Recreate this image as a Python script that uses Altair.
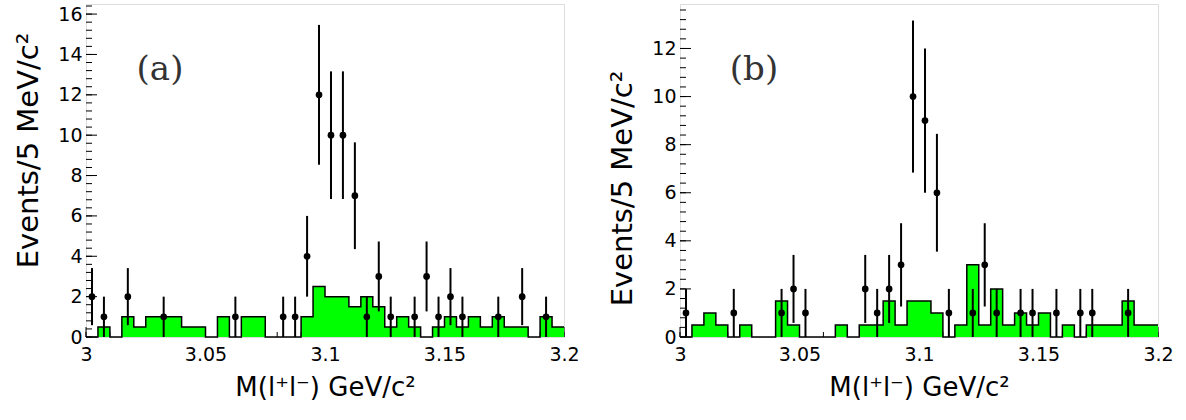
import altair as alt
import numpy as np
import pandas as pd

# ---------------- data ----------------
X_MIN, X_MAX, BIN = 3.0, 3.2, 0.005

# background (green) histogram contents, 40 bins of 5 MeV from 3.0 to 3.2 GeV
green_a = [0, 0.5, 0, 1, 0.5, 1, 1, 1, 0.5, 0.5,
           0, 1, 0, 1, 1, 0, 0, 0, 1, 2.5,
           2, 2, 1.5, 2, 1.5, 0.5, 1, 0.5, 0, 0.5,
           1, 0.5, 1, 0.5, 1, 0.5, 0.5, 0, 1, 0.5]
green_b = [0, 0.5, 1, 0.5, 0, 0.5, 0, 0, 1.5, 0.5,
           0, 0, 0, 0.5, 0, 0.5, 0.5, 1.5, 0.5, 1.5,
           1.5, 1, 0, 0.5, 3, 0.5, 2, 0.5, 1, 0.5,
           1, 0, 0.5, 0, 0.5, 0.5, 0.5, 1.5, 0.5, 0.5]

# data points (bin centres, GeV) and counts
mass_a = [3.0025, 3.0075, 3.0175, 3.0325, 3.0625, 3.0825, 3.0875, 3.0925,
          3.0975, 3.1025, 3.1075, 3.1125, 3.1175, 3.1225, 3.1275, 3.1375,
          3.1425, 3.1475, 3.1525, 3.1575, 3.1725, 3.1825, 3.1925]
counts_a = [2, 1, 2, 1, 1, 1, 1, 4, 12, 10, 10, 7, 1, 3, 1, 1, 3, 1, 2, 1, 1, 2, 1]

mass_b = [3.0025, 3.0225, 3.0425, 3.0475, 3.0525, 3.0775, 3.0825, 3.0875,
          3.0925, 3.0975, 3.1025, 3.1075, 3.1125, 3.1225, 3.1275, 3.1325,
          3.1425, 3.1475, 3.1575, 3.1675, 3.1725, 3.1875]
counts_b = [1, 1, 1, 2, 1, 2, 1, 2, 3, 10, 9, 6, 1, 1, 3, 1, 1, 1, 1, 1, 1, 1]

x_major = [3.0, 3.05, 3.1, 3.15, 3.2]
x_minor = [round(3.0 + 0.01 * i, 2) for i in range(21)]
y_major_a = [0, 2, 4, 6, 8, 10, 12, 14, 16]
y_major_b = [0, 2, 4, 6, 8, 10, 12]
ymax_a, ymax_b = 16.5, 13.85

X_TITLE = "M(l⁺l⁻) GeV/c²"
Y_TITLE = "Events/5 MeV/c²"
FONT = "DejaVu Sans"

W, H = 478, 333


def panel(green, mass, counts, ymax, y_major, tag, title_y):
    edges = [X_MIN + BIN * i for i in range(len(green) + 1)]
    hist = pd.DataFrame({"m": edges, "n": green + [green[-1]]})
    pts = pd.DataFrame({"m": mass, "n": counts})
    err = np.sqrt(pts["n"])
    pts["lo"] = pts["n"] - err
    pts["hi"] = pts["n"] + err

    y_minor = [round(v, 2) for v in np.arange(0, ymax, 0.4)]

    xs = alt.Scale(domain=[X_MIN, X_MAX], nice=False, zero=False)
    ys = alt.Scale(domain=[0, ymax], nice=False, zero=True)

    xax = alt.Axis(values=x_major, format="~g", title=X_TITLE,
                   labelFontSize=19, labelFont=FONT, labelPadding=8,
                   labelFlush=False, labelOverlap=False,
                   titleFont=FONT, titleFontSize=26, titleFontWeight="normal",
                   titleY=58, titleBaseline="alphabetic",
                   ticks=False, domain=False, grid=False,
                   labelColor="black", titleColor="black")
    yax = alt.Axis(values=y_major, title=Y_TITLE,
                   labelFontSize=19, labelFont=FONT, labelPadding=4,
                   labelFlush=False, labelOverlap=False,
                   titleFont=FONT, titleFontSize=29, titleFontWeight="normal",
                   titleX=-58, titleY=title_y, titleAlign="center",
                   titleBaseline="middle", titleAngle=270,
                   ticks=False, domain=False, grid=False,
                   labelColor="black", titleColor="black")

    X = lambda f: alt.X(f, type="quantitative", scale=xs, axis=xax)
    Y = lambda f: alt.Y(f, type="quantitative", scale=ys, axis=yax)

    xt_major = alt.Chart(pd.DataFrame({"m": x_major})).mark_rule(
        color="black", strokeWidth=1).encode(x=X("m"), y=alt.value(H), y2=alt.value(H - 10))
    xt_minor = alt.Chart(pd.DataFrame({"m": x_minor})).mark_rule(
        color="black", strokeWidth=1).encode(x=X("m"), y=alt.value(H), y2=alt.value(H - 5))

    area = alt.Chart(hist).mark_area(interpolate="step-after", color="#00ff00",
                                     opacity=1).encode(x=X("m"), y=Y("n"))
    outline = alt.Chart(hist).mark_line(interpolate="step-after", color="black",
                                        strokeWidth=1.5).encode(x=X("m"), y=Y("n"))

    yt_major = alt.Chart(pd.DataFrame({"v": y_major})).mark_rule(
        color="black", strokeWidth=1).encode(y=Y("v"), x=alt.value(0), x2=alt.value(11))
    yt_minor = alt.Chart(pd.DataFrame({"v": y_minor})).mark_rule(
        color="black", strokeWidth=1).encode(y=Y("v"), x=alt.value(0), x2=alt.value(6))

    bars = alt.Chart(pts).mark_rule(color="black", strokeWidth=2).encode(
        x=X("m"), y=Y("lo"), y2="hi")
    dots = alt.Chart(pts).mark_circle(color="black", size=45, opacity=1).encode(
        x=X("m"), y=Y("n"))

    label = alt.Chart(pd.DataFrame({"t": [tag]})).mark_text(
        font="DejaVu Serif", fontSize=34, color="#333", baseline="middle",
        align="center").encode(text="t:N", x=alt.value(74), y=alt.value(66))

    return alt.layer(xt_minor, xt_major, area, outline, yt_minor, yt_major,
                     bars, dots, label).properties(width=W, height=H)


pa = panel(green_a, mass_a, counts_a, ymax_a, y_major_a, "(a)", 146)
pb = panel(green_b, mass_b, counts_b, ymax_b, y_major_b, "(b)", 184)

chart = alt.hconcat(pa, pb, spacing=116, bounds="flush").properties(
    padding={"left": 13, "top": 3, "right": 5, "bottom": 5}
).configure_view(stroke="black", strokeWidth=1.5).configure(background="white")

chart.save("out.html", embed_options={"renderer": "svg", "actions": False})
